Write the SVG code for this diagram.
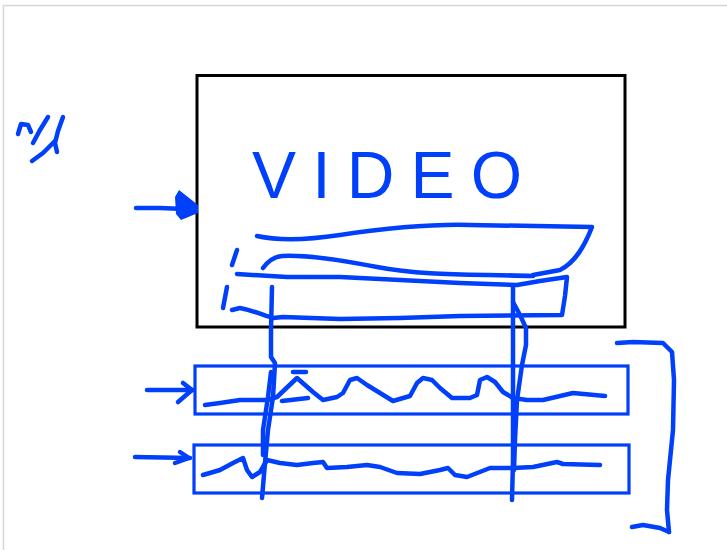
<svg xmlns="http://www.w3.org/2000/svg" width="727" height="550" viewBox="0 0 727 550">
  <style>
    .pen { fill: none; stroke: #0040fa; stroke-width: 4.5; stroke-linecap: round; stroke-linejoin: round; }
    .thin { fill: none; stroke: #0040fa; stroke-width: 3.2; }
    .frame { fill: none; stroke: #d6d6d6; stroke-width: 1.5; }
    .label { font-family: "Liberation Sans", Arial, sans-serif; font-size: 66px; fill: #0040fa; }
  </style>
  <rect x="0" y="0" width="727" height="550" fill="#ffffff"/>
  <rect class="frame" x="3.5" y="5.5" width="760" height="580"/>

  <g id="note">
    <path class="pen" d="M18,134 L21,124 L28,125 L31,132"/>
    <path class="pen" d="M48,117 L40,130 L33,143"/>
    <path class="pen" d="M32,161 L43,153 L55,141"/>
    <path class="pen" d="M63,117 L58,131 L55,143 L57,152"/>
  </g>

  <g id="video">
    <rect x="197" y="75.5" width="428" height="251.5" fill="none" stroke="#000" stroke-width="3"/>
    <text class="label" x="252" y="198" textLength="270" lengthAdjust="spacing">VIDEO</text>
    <path class="pen" d="M257,236 C275,240 300,241 340,235 S430,224 470,225 L592,227 C585,245 576,262 560,270 L533,275"/>
    <path class="pen" d="M263,268 C268,261 273,257 282,256 C300,255 330,258 377,267 S470,274 533,276"/>
    <path class="pen" d="M237,274 L287,277 L340,277 L400,280 L460,283 L517,285 L540,281 L567,277 L565,296 L562,315 L460,316 L400,318 L340,319 L283,317 L273,318 C265,316 255,311 240,308 L232,310"/>
    <path class="pen" d="M237,250 L232,265"/>
    <path class="pen" d="M227,287 L223,308"/>
  </g>

  <g id="track-1">
    <rect class="thin" x="195" y="366" width="433" height="48"/>
    <polyline class="pen" points="205,405 220,403 240,400 267,400 277,397 297,378 313,392 323,400 337,397 343,393 350,380 357,378 367,385 380,393 393,401 410,396 417,383 423,378 432,380 440,388 452,398 470,398 477,395 480,380 487,377 495,382 503,392 513,398 527,400 543,400 573,393 605,396"/>
    <path class="pen" d="M282,401 L308,398"/>
    <path class="pen" d="M293,372 L306,372"/>
  </g>

  <g id="track-2">
    <rect class="thin" x="194" y="445" width="435" height="48"/>
    <polyline class="pen" points="203,475 220,470 233,463 243,458 247,470 252,477 260,472 267,460 280,463 297,465 313,463 323,462 327,468 347,467 367,465 380,467 397,473 420,474 440,470 448,468 455,475 467,477 490,468 513,468 533,467 557,462 563,464 600,465"/>
  </g>

  <g id="markers">
    <path class="pen" d="M272,287 L271,330 L271,357 L275,363 L273,397 L268,430 L265,463 L262,498"/>
    <path class="pen" d="M271,372 L268,397 L263,430 L263,455"/>
    <path class="pen" d="M513,287 L513,330 L513,400 L513,460 L512,500"/>
    <path class="pen" d="M513,302 L520,315 L526,328 L526,345 L522,365 L517,400 L515,440 L514,470"/>
  </g>

  <g id="bracket">
    <path class="pen" d="M617,343 L633,342 L663,343 L672,352 L674,380 L673,430 L668,480 L667,510 L669,532"/>
    <path class="pen" d="M632,527 L643,525 L660,528 L669,532"/>
  </g>

  <g id="connectors">
    <path class="pen" d="M136,208 L160,208 L185,209" stroke-width="5.5"/>
    <path d="M175,197 L179,190 L198,205 L198,213 L181,220 L176,214 Z" fill="#0040fa"/>
    <path class="pen" d="M147,390 L193,390"/>
    <path class="pen" d="M183,383 L192,390 L178,402"/>
    <path class="pen" d="M135,457 L190,458"/>
    <path class="pen" d="M180,452 L189,458 L175,463"/>
  </g>
</svg>
